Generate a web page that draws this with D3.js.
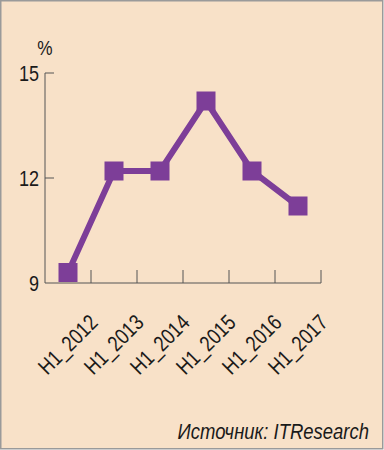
<!DOCTYPE html>
<html lang="ru">
<head>
  <meta charset="UTF-8" />
  <title>ITResearch chart</title>
  <script src="https://d3js.org/d3.v7.min.js"></script>
  <style>
    body { margin: 0; background: #fff; }
    svg { display: block; }
    text { font-family: "Liberation Sans Narrow", "Liberation Sans", Arial, sans-serif; fill: #1a1a1a; }
  </style>
</head>
<body>
<script>
const categories = ["H1_2012", "H1_2013", "H1_2014", "H1_2015", "H1_2016", "H1_2017"];
const values = [9.3, 12.2, 12.2, 14.2, 12.2, 11.2];
const yTicks = [9, 12, 15];

const width = 384, height = 450;
// no narrow font installed, so squeeze regular sans horizontally
const narrow = 0.82;

const svg = d3.select("body").append("svg")
  .attr("width", width)
  .attr("height", height);

// background panel with grey frame
svg.append("rect")
  .attr("x", 0.75).attr("y", 0.75)
  .attr("width", width - 2).attr("height", height - 2)
  .attr("fill", "#f8e1c8")
  .attr("stroke", "#9a9a9a")
  .attr("stroke-width", 1.5);

const x = d3.scaleBand().domain(categories).range([45, 321]);
const y = d3.scaleLinear().domain([9, 15]).range([283, 73]);

const axisColor = "#555";

// y axis line + ticks
svg.append("line")
  .attr("x1", 45).attr("x2", 45)
  .attr("y1", y(15)).attr("y2", y(9))
  .attr("stroke", axisColor).attr("stroke-width", 1);

svg.selectAll(".ytick")
  .data(yTicks.filter(d => d !== 9))
  .join("line")
  .attr("x1", 45).attr("x2", 54)
  .attr("y1", d => y(d)).attr("y2", d => y(d))
  .attr("stroke", axisColor).attr("stroke-width", 1);

svg.selectAll(".ylab")
  .data(yTicks)
  .join("text")
  .attr("transform", d => `translate(39,${y(d)}) scale(${narrow},1)`)
  .attr("dy", "0.36em")
  .attr("text-anchor", "end")
  .style("font-size", "22px")
  .text(d => d);

svg.append("text")
  .attr("transform", `translate(45,55) scale(${narrow},1)`)
  .attr("text-anchor", "middle")
  .style("font-size", "21px")
  .text("%");

// x axis baseline + ticks pointing up
svg.append("line")
  .attr("x1", 45).attr("x2", 321)
  .attr("y1", y(9)).attr("y2", y(9))
  .attr("stroke", axisColor).attr("stroke-width", 1);

svg.selectAll(".xtick")
  .data(categories)
  .join("line")
  .attr("x1", d => x(d) + x.bandwidth()).attr("x2", d => x(d) + x.bandwidth())
  .attr("y1", y(9)).attr("y2", y(9) - 13)
  .attr("stroke", axisColor).attr("stroke-width", 1);

// x labels, rotated
svg.selectAll(".xlab")
  .data(categories)
  .join("text")
  .attr("text-anchor", "end")
  .attr("transform", d => `translate(${x(d) + x.bandwidth() / 2 + 31},324) rotate(-45) scale(${narrow},1)`)
  .style("font-size", "22px")
  .text(d => d);

// series
const purple = "#7d3e98";
const line = d3.line()
  .x((d, i) => x(categories[i]) + x.bandwidth() / 2)
  .y(d => y(d));

svg.append("path")
  .datum(values)
  .attr("d", line)
  .attr("fill", "none")
  .attr("stroke", purple)
  .attr("stroke-width", 6)
  .attr("stroke-linejoin", "miter");

const sq = 19;
svg.selectAll(".pt")
  .data(values)
  .join("rect")
  .attr("x", (d, i) => x(categories[i]) + x.bandwidth() / 2 - sq / 2)
  .attr("y", d => y(d) - sq / 2)
  .attr("width", sq).attr("height", sq)
  .attr("fill", purple);

svg.append("text")
  .attr("transform", `translate(369,439) scale(0.84,1)`)
  .attr("text-anchor", "end")
  .style("font-size", "22px")
  .style("font-style", "italic")
  .text("Источник: ITResearch");
</script>
</body>
</html>
